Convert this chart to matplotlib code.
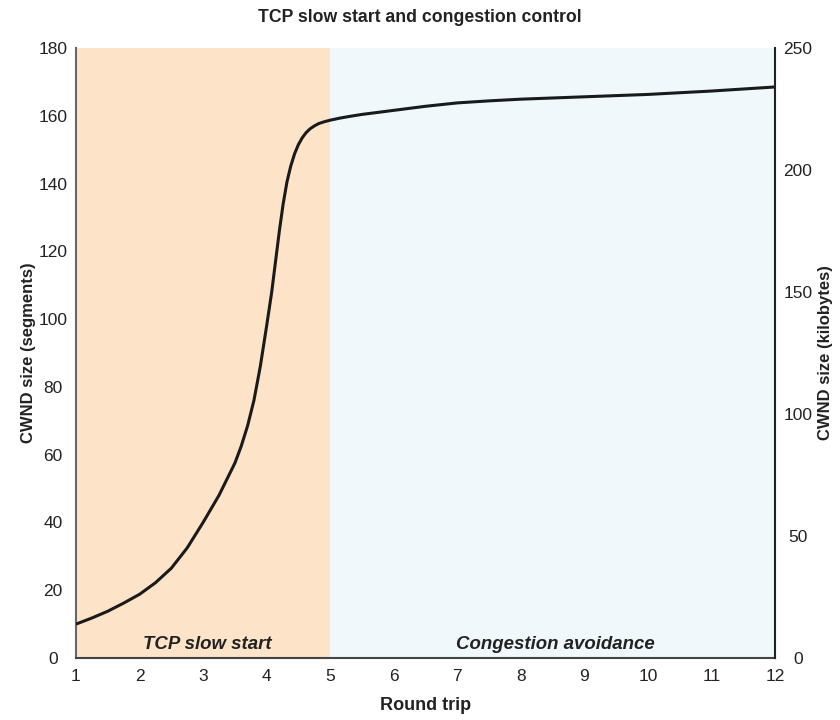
import matplotlib
matplotlib.use("Agg")
import matplotlib.pyplot as plt

plt.rcParams['font.family'] = ['Liberation Sans', 'DejaVu Sans']

# Data
round_trip = [1.0, 1.25, 1.5, 1.75, 2.0, 2.25, 2.5, 2.75, 3.0, 3.25, 3.5, 3.6, 3.7, 3.8, 3.9, 4.0,
              4.08, 4.14, 4.2, 4.26, 4.32, 4.38, 4.44, 4.5, 4.56, 4.62, 4.68, 4.75, 4.82, 4.9,
              5.0, 5.15, 5.3, 5.5, 5.75, 6.0, 6.5, 7.0, 7.5, 8.0, 9.0, 10.0, 11.0, 12.0]
cwnd_segments = [10.0, 11.8, 13.8, 16.2, 18.8, 22.2, 26.5, 32.5, 40.0, 48.0, 57.5, 62.5, 68.5, 76.0, 86.0, 98.0,
                 108.0, 117.0, 126.0, 134.0, 140.5, 145.2, 148.8, 151.5, 153.5, 155.0, 156.1, 157.0, 157.7, 158.2,
                 158.7, 159.3, 159.8, 160.4, 161.0, 161.6, 162.8, 163.8, 164.4, 164.9, 165.6, 166.3, 167.3, 168.5]
slow_start_range = (1, 5)
avoidance_range = (5, 12)
x_ticks = list(range(1, 13))
left_ticks = [0, 20, 40, 60, 80, 100, 120, 140, 160, 180]
right_ticks = [0, 50, 100, 150, 200, 250]

fig = plt.figure(figsize=(8.4, 7.2), dpi=100)
ax = fig.add_axes([76/840, 1-658/720, 699/840, 610/720])

ax.axvspan(*slow_start_range, color='#FDE4C9', lw=0, zorder=0)
ax.axvspan(*avoidance_range, color='#F0F8FC', lw=0, zorder=0)
ax.plot(round_trip, cwnd_segments, color='#1a1a1a', lw=2.2, zorder=3,
        solid_capstyle='butt', solid_joinstyle='round')

ax.set_xlim(1, 12)
ax.set_ylim(0, 180)
ax.set_xticks(x_ticks)
ax.set_yticks(left_ticks)
ax.tick_params(axis='both', length=0, labelsize=12.5, colors='#222222')
ax.tick_params(axis='y', pad=16.5)
for lab in ax.get_yticklabels():
    lab.set_horizontalalignment('center')
ax.tick_params(axis='x', pad=8)

ax.spines['top'].set_visible(False)
ax.spines['right'].set_visible(False)
ax.spines['left'].set_color('#666666')
ax.spines['left'].set_linewidth(1.5)
ax.spines['bottom'].set_color('#444444')
ax.spines['bottom'].set_linewidth(1.5)

ax2 = ax.twinx()
ax2.set_ylim(0, 250)
ax2.set_yticks(right_ticks)
ax2.tick_params(axis='y', length=0, labelsize=12.5, colors='#222222', pad=16.5)
for lab in ax2.get_yticklabels():
    lab.set_horizontalalignment('center')
for s in ['top', 'left', 'bottom']:
    ax2.spines[s].set_visible(False)
ax2.spines['right'].set_color('#222222')
ax2.spines['right'].set_linewidth(1.5)

ax.set_xlabel('Round trip', fontsize=13, fontweight='bold', labelpad=9, color='#222222')
ax.set_ylabel('CWND size (segments)', fontsize=12, fontweight='bold', labelpad=2, color='#222222')
ax2.set_ylabel('CWND size (kilobytes)', fontsize=12, fontweight='bold', labelpad=4, color='#222222')
fig.text(0.5, 1-17/720, 'TCP slow start and congestion control', ha='center', va='center',
         fontsize=12.7, fontweight='bold', color='#222222')

ax.text(3.06, 2.6, 'TCP slow start', ha='center', va='baseline', fontsize=13.4,
        fontweight='bold', style='italic', color='#222222')
ax.text(8.55, 2.6, 'Congestion avoidance', ha='center', va='baseline', fontsize=13.4,
        fontweight='bold', style='italic', color='#222222')

fig.savefig('out.png', dpi=100)
